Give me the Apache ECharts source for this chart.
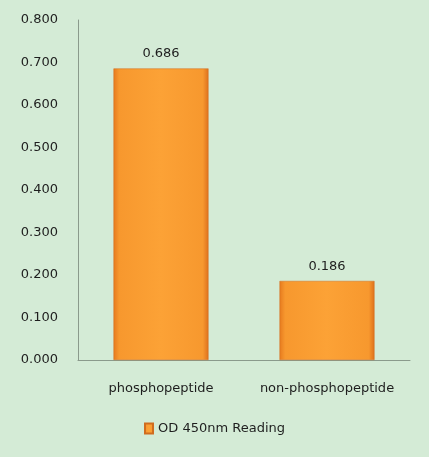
<!DOCTYPE html>
<html>
<head>
<meta charset="utf-8">
<script src="https://cdn.jsdelivr.net/npm/echarts@6/dist/echarts.min.js"></script>
<style>
  html, body { margin: 0; padding: 0; background: #d4ebd6; }
  #chart { width: 429px; height: 457px; }
</style>
</head>
<body>
<div id="chart"></div>
<script>
// data
const categories = ["phosphopeptide", "non-phosphopeptide"];
const readings = [0.686, 0.186];
const seriesName = "OD 450nm Reading";

const FONT = "DejaVu Sans";

const barColor = {
  type: "linear", x: 0, y: 0, x2: 1, y2: 0,
  colorStops: [
    { offset: 0, color: "#e67a1e" },
    { offset: 0.06, color: "#f7982e" },
    { offset: 0.5, color: "#fca236" },
    { offset: 0.94, color: "#f7982e" },
    { offset: 1, color: "#dd701c" }
  ]
};

let myChart = echarts.init(document.getElementById("chart"));

let option = {
  backgroundColor: "#d4ebd6",
  grid: { left: 78, right: 19, top: 20, bottom: 97 },
  legend: {
    bottom: 17,
    left: "center",
    itemWidth: 8,
    itemHeight: 10,
    itemGap: 4,
    icon: "rect",
    textStyle: { fontFamily: FONT, fontSize: 13, color: "#1e1e1e" },
    data: [seriesName]
  },
  xAxis: {
    type: "category",
    data: categories,
    axisLine: { lineStyle: { color: "#8a9a8c", width: 1 } },
    axisTick: { show: false },
    axisLabel: { interval: 0, fontFamily: FONT, fontSize: 13, color: "#1e1e1e", margin: 22 }
  },
  yAxis: {
    type: "value",
    min: 0,
    max: 0.8,
    interval: 0.1,
    splitLine: { show: false },
    axisLine: { show: true, lineStyle: { color: "#8a9a8c", width: 1 } },
    axisTick: { show: false },
    axisLabel: {
      fontFamily: FONT,
      fontSize: 13,
      color: "#1e1e1e",
      margin: 20,
      formatter: function (v) { return v.toFixed(3); }
    }
  },
  series: [
    {
      name: seriesName,
      type: "bar",
      data: readings,
      barWidth: 95,
      itemStyle: {
        color: barColor,
        borderColor: "#d06c1e",
        borderWidth: 0.5
      },
      label: {
        show: true,
        position: "top",
        distance: 8,
        fontFamily: FONT,
        fontSize: 13,
        color: "#1e1e1e",
        formatter: function (p) { return p.value.toFixed(3); }
      }
    }
  ]
};

myChart.setOption(option);
</script>
</body>
</html>
